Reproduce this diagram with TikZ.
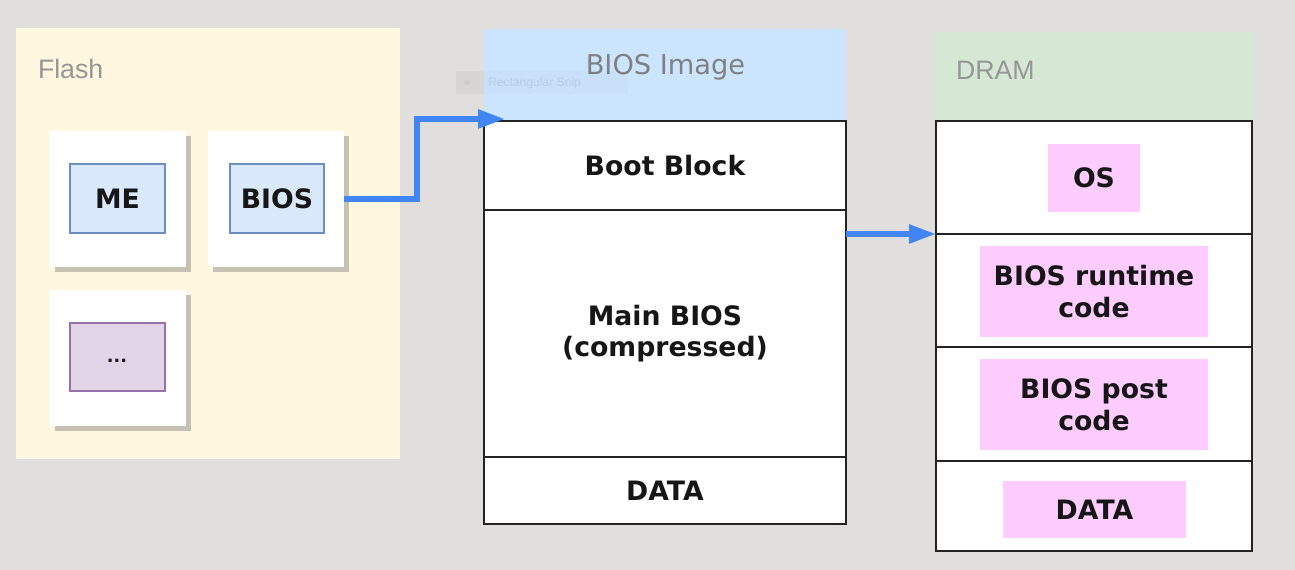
\documentclass[tikz,border=0pt]{standalone}
\usepackage{fontspec}
\setmainfont{DejaVu Sans}
\newfontfamily\arialf{Liberation Sans}
\usetikzlibrary{arrows.meta,shadows,calc}
\definecolor{bgc}{RGB}{224,223,222}
\definecolor{flashc}{RGB}{255,247,223}
\definecolor{imgc}{RGB}{204,229,255}
\definecolor{dramc}{RGB}{213,232,212}
\definecolor{shadowc}{RGB}{198,193,178}
\definecolor{bluefill}{RGB}{218,232,252}
\definecolor{blueline}{RGB}{108,142,191}
\definecolor{purpfill}{RGB}{225,213,231}
\definecolor{purpline}{RGB}{150,115,166}
\definecolor{pinkc}{RGB}{255,204,255}
\definecolor{arrowc}{RGB}{66,133,244}
\definecolor{titlegray}{RGB}{150,150,150}
\definecolor{titlegrayb}{RGB}{128,128,128}
\definecolor{stackline}{RGB}{35,35,35}
\definecolor{snipc}{RGB}{185,205,228}
\definecolor{labelc}{RGB}{22,22,22}
\newcommand\mylbl{\fontsize{15.2pt}{18pt}\selectfont\bfseries}
\begin{document}
\begin{tikzpicture}[x=0.02cm,y=-0.02cm,
  sz/.style 2 args={minimum width=#1*0.02cm, minimum height=#2*0.02cm},
  every node/.style={inner sep=0pt, outer sep=0pt},
  panel/.style={rectangle, draw=none},
  card/.style={rectangle, fill=white, general shadow={fill=shadowc, shadow xshift=0.1cm, shadow yshift=-0.11cm}},
  bluebox/.style={rectangle, fill=bluefill, draw=blueline, line width=0.7pt, font=\mylbl, text=labelc},
  purpbox/.style={rectangle, fill=purpfill, draw=purpline, line width=0.7pt},
  cell/.style={rectangle, fill=white, draw=stackline, line width=1.1pt, font=\mylbl, align=center, text=labelc},
  pink/.style={rectangle, fill=pinkc, font=\mylbl, align=center, text=labelc},
  paneltitle/.style={font=\arialf\fontsize{15.2pt}{18pt}\selectfont, text=titlegray},
  arr/.style={draw=arrowc, line width=3.2pt, -{Triangle[length=0.54cm, width=0.36cm]}}
]
% background
\fill[bgc] (0,0) rectangle (1295,570);
\useasboundingbox (0,0) rectangle (1295,570);

% ---------- Flash ----------
\node[panel, fill=flashc, sz={384}{431}] (flash) at (208,243.5) {};
\node[paneltitle, anchor=base west] (flashlbl) at (38,78.3) {Flash};

\node[card, sz={136}{136}] (mecard) at (118,199) {};
\node[card, sz={136}{136}] (bioscard) at (276,199) {};
\node[card, sz={136}{136}] (dotscard) at (118,358) {};

\node[bluebox, sz={95}{69}] (me) at (117.5,198.5) {ME};
\node[bluebox, sz={94}{69}] (bios) at (277,198.5) {BIOS};
\node[purpbox, sz={95}{68}] (dots) at (117.5,357) {};
\node[font=\bfseries\fontsize{10pt}{12pt}\selectfont, text=labelc] (dotstxt) at (117,361) {...};

% ---------- BIOS Image ----------
\node[panel, fill=imgc, sz={362}{92}] (imgpanel) at (665,75) {};
\node[anchor=base, font=\fontsize{15.5pt}{18pt}\selectfont, text=titlegrayb] (imglbl) at (665.5,75) {BIOS Image};

% snip artifact
\fill[black, opacity=0.02] (456,71) rectangle (628,94);
\fill[black, opacity=0.015] (456,71) rectangle (484,94);
\fill[black, opacity=0.04] (467,82.5) circle (3);
\node[anchor=west, font=\arialf\fontsize{6.9pt}{8pt}\selectfont, text=snipc] (snip) at (488,83) {Rectangular Snip};

\node[cell, sz={362}{89}] (boot) at (665,165.5) {Boot Block};
\node[cell, sz={362}{247}] (main) at (665,333.5) {Main BIOS\\(compressed)};
\node[cell, sz={362}{67}] (data1) at (665,490.5) {DATA};

% ---------- DRAM ----------
\node[panel, fill=dramc, sz={320}{89}] (drampanel) at (1094,76.5) {};
\node[paneltitle, anchor=base west] (dramlbl) at (956,80) {DRAM};

\node[cell, sz={316}{113}] (osc) at (1094,177.5) {};
\node[cell, sz={316}{113}] (rtc) at (1094,290.5) {};
\node[cell, sz={316}{114}] (postc) at (1094,404) {};
\node[cell, sz={316}{90}] (datac) at (1094,506) {};

\node[pink, sz={92}{68}] (os) at (1094,178) {OS};
\node[pink, sz={228}{91}] (rt) at (1094,291.5) {BIOS runtime\\code};
\node[pink, sz={228}{91}] (post) at (1094,404.5) {BIOS post\\code};
\node[pink, sz={183}{57}] (data2) at (1094.5,509.5) {DATA};

% ---------- arrows ----------
\coordinate (a1end) at (505,119);
\draw[arr] (bioscard.east) -- ++(73,0) |- (a1end);
\draw[arr] (main.north east |- osc.south west) -- (osc.south west);
\end{tikzpicture}
\end{document}
